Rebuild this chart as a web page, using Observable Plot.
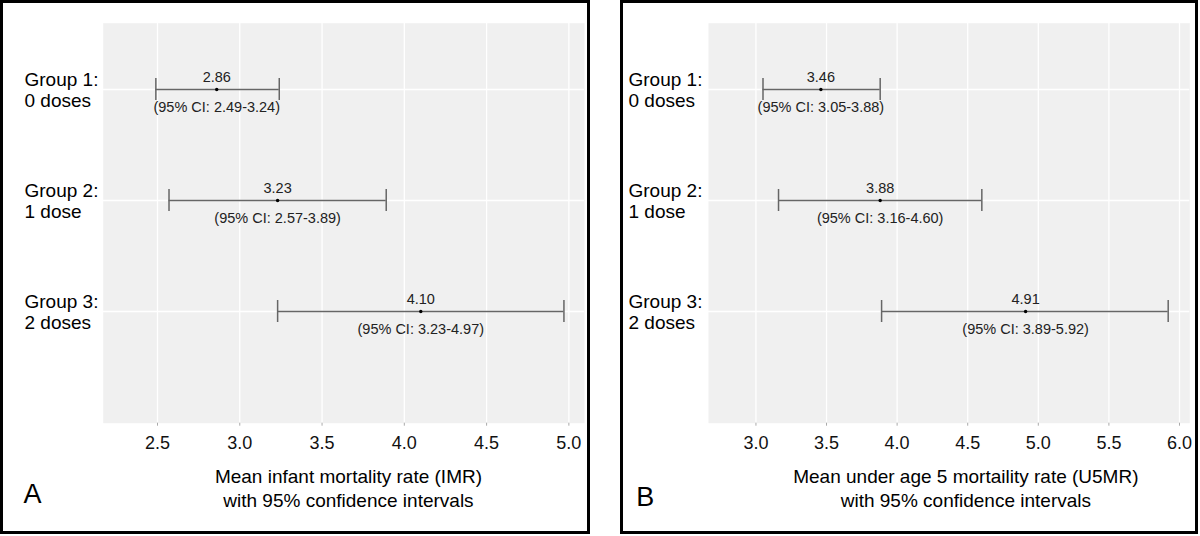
<!DOCTYPE html>
<html><head><meta charset="utf-8">
<script src="https://cdn.jsdelivr.net/npm/d3@7"></script>
<script src="https://cdn.jsdelivr.net/npm/@observablehq/plot@0.6"></script>
<style>
body{margin:0;background:#fff;}
#wrap{position:relative;width:1200px;height:536px;font-family:"Liberation Sans",Arial,sans-serif;}
.panel{position:absolute;top:0;height:534px;border:3px solid #000;box-sizing:border-box;background:#fff;}
#pa{left:0;width:590px;}
#pb{left:620px;width:578px;}
.panel svg{display:block;}
</style></head><body>
<div id="wrap"><div class="panel" id="pa"></div><div class="panel" id="pb"></div></div>
<script>
// Categories
const groups = ["Group 1:\n0 doses", "Group 2:\n1 dose", "Group 3:\n2 doses"];
// Panel A: infant mortality rate
const imrMean = [2.86, 3.23, 4.10];
const imrLo   = [2.49, 2.57, 3.23];
const imrHi   = [3.24, 3.89, 4.97];
const imrTicks = [2.5, 3.0, 3.5, 4.0, 4.5, 5.0];
const imrTitle = "Mean infant mortality rate (IMR)\nwith 95% confidence intervals";
// Panel B: under-5 mortality rate
const u5Mean = [3.46, 3.88, 4.91];
const u5Lo   = [3.05, 3.16, 3.89];
const u5Hi   = [3.88, 4.60, 5.92];
const u5Ticks = [3.0, 3.5, 4.0, 4.5, 5.0, 5.5, 6.0];
const u5Title = "Mean under age 5 mortaility rate (U5MR)\nwith 95% confidence intervals";

const FONT = '"Liberation Sans", Arial, sans-serif';

function panel(o) {
  const rows = groups.map((g, i) => ({group: g, mean: o.mean[i], lo: o.lo[i], hi: o.hi[i]}));
  const barColor = "#666";
  return Plot.plot({
    width: o.width, height: 528,
    marginLeft: o.marginLeft, marginRight: o.marginRight, marginTop: 19.7, marginBottom: 108.3,
    style: {fontFamily: FONT, background: "white", overflow: "visible"},
    x: {domain: o.domain},
    y: {type: "band", domain: groups, paddingInner: 0.806, paddingOuter: 0.6966, align: 0.351},
    marks: [
      Plot.frame({fill: "#f0f0f0", stroke: "none"}),
      Plot.gridX({ticks: o.ticks, stroke: "white", strokeOpacity: 1, strokeWidth: 1.3}),
      Plot.gridY({stroke: "white", strokeOpacity: 1, strokeWidth: 1.3}),
      Plot.axisX({ticks: o.ticks, tickFormat: d3.format(".1f"), tickSize: 3, tickPadding: 10,
                  stroke: "#aaa", fill: "#111", fontSize: 18, label: null}),
      Plot.axisY({tickSize: 0, tickPadding: 0, dx: o.labelDx, textAnchor: "start",
                  fontSize: 19, lineHeight: 1.1, fill: "#000", label: null}),
      Plot.ruleY(rows, {y: "group", x1: "lo", x2: "hi", stroke: barColor, strokeWidth: 1.5}),
      Plot.tickX(rows, {x: "lo", y: "group", stroke: barColor, strokeWidth: 1.5}),
      Plot.tickX(rows, {x: "hi", y: "group", stroke: barColor, strokeWidth: 1.5}),
      Plot.dot(rows, {x: "mean", y: "group", r: 1.7, fill: "#000", stroke: "none"}),
      Plot.text(rows, {x: "mean", y: "group", text: d => d.mean.toFixed(2), dy: -12.5, fontSize: 14.5, fill: "#222"}),
      Plot.text(rows, {x: "mean", y: "group", text: d => `(95% CI: ${d.lo.toFixed(2)}-${d.hi.toFixed(2)})`,
                       dy: 18, fontSize: 14.5, fill: "#222"}),
      Plot.text([o.title], {frameAnchor: "bottom", text: d => d, dx: o.titleDx, dy: 64.5,
                            lineAnchor: "middle", lineHeight: 1.263, fontSize: 19, fill: "#000"}),
      Plot.text([o.letter], {frameAnchor: "bottom-left", text: d => d, dx: o.letterDx, dy: o.letterDy,
                             textAnchor: "start", lineAnchor: "bottom", fontSize: 27, fill: "#000"})
    ]
  });
}

document.getElementById("pa").append(panel({
  mean: imrMean, lo: imrLo, hi: imrHi, ticks: imrTicks, title: imrTitle, letter: "A",
  domain: [2.17, 5.095], width: 584, marginLeft: 99.7, marginRight: 3,
  labelDx: -78.7, titleDx: 4.6, letterDx: -79.7, letterDy: 80
}));
document.getElementById("pb").append(panel({
  mean: u5Mean, lo: u5Lo, hi: u5Hi, ticks: u5Ticks, title: u5Title, letter: "B",
  domain: [2.664, 6.073], width: 572, marginLeft: 85, marginRight: 5.7,
  labelDx: -80, titleDx: 16.7, letterDx: -72.3, letterDy: 82.3
}));
</script>
</body></html>
